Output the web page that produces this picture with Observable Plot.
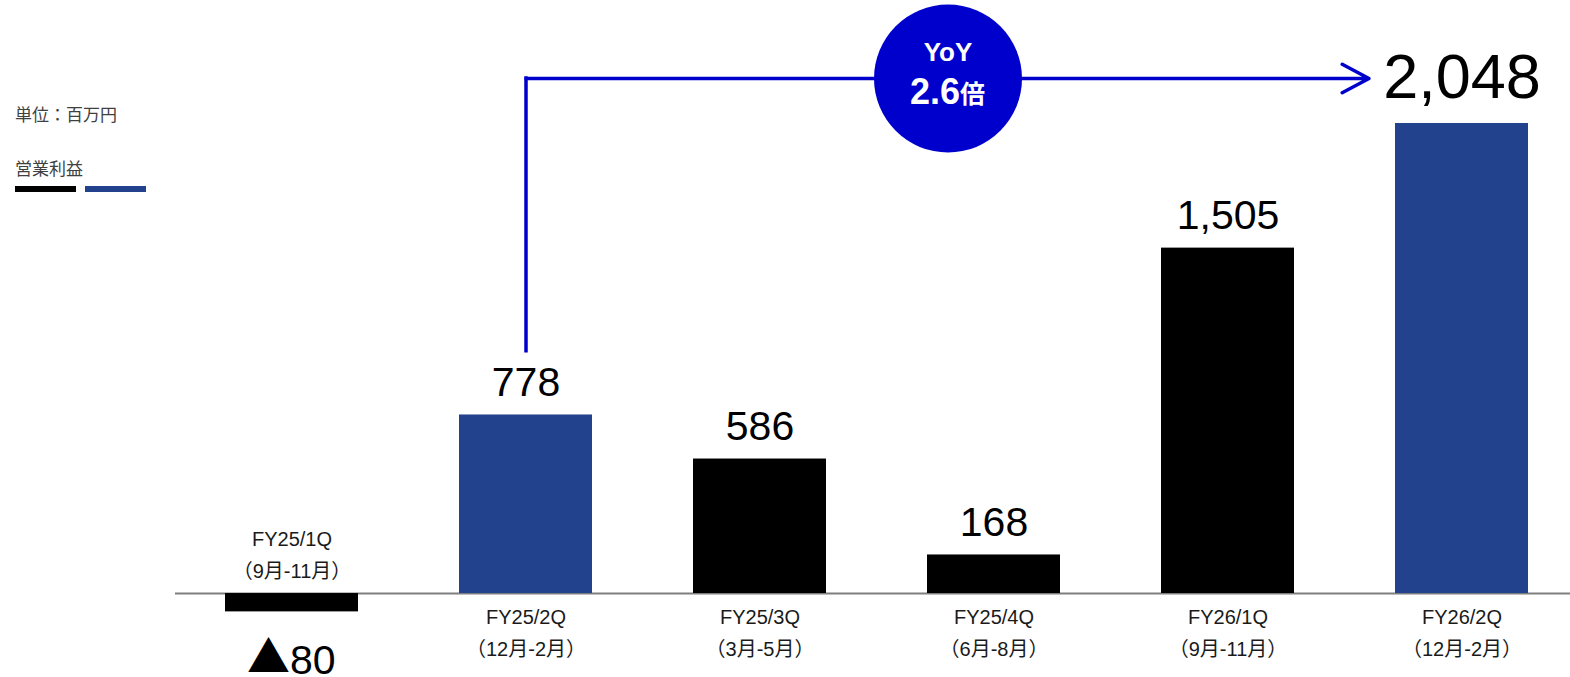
<!DOCTYPE html>
<html><head><meta charset="utf-8">
<script src="https://cdn.jsdelivr.net/npm/d3@7"></script>
<script src="https://cdn.jsdelivr.net/npm/@observablehq/plot@0.6"></script>
<style>
body{margin:0;background:#fff;}
#wrap{position:relative;width:1570px;height:677px;}
#legend{position:absolute;left:0;top:0;font-family:"Noto Sans CJK JP",sans-serif;color:#404040;font-size:17px;}
#legend div{position:absolute;white-space:nowrap;}
.sw{height:6px;width:61px;}
</style></head><body>
<div id="wrap"><div id="chart"></div><div id="legend"></div></div>
<script>
// ---- data ----
const categories = ["FY25/1Q","FY25/2Q","FY25/3Q","FY25/4Q","FY26/1Q","FY26/2Q"];
const periods = ["（9月-11月）","（12月-2月）","（3月-5月）","（6月-8月）","（9月-11月）","（12月-2月）"];
const values = [-80, 778, 586, 168, 1505, 2048];
const valueLabels = ["▲80","778","586","168","1,505","2,048"];
const compared = ["FY25/2Q","FY26/2Q"];
const unitLabel = "単位：百万円";
const seriesLabel = "営業利益";
const yoyTitle = "YoY";
const yoyRatio = "2.6";
const yoyUnit = "倍";
const yoyArrowLevel = 2244;

// ---- styles ----
const BLACK = "#000000", BLUE = "#22428E", ARROW = "#0000CC";
const FONT = "'Liberation Sans', Arial, 'Noto Sans CJK JP', sans-serif";

const data = categories.map((c,i)=>({cat:c, period:periods[i], value:values[i], label:valueLabels[i],
  color: compared.includes(c) ? BLUE : BLACK, tick: c + "\n" + periods[i]}));
const last = data[data.length-1];
const pos = data.filter(d=>d.value>=0 && d!==last);
const neg = data.filter(d=>d.value<0).map(d=>({...d, mark:d.label.startsWith("▲") ? "▲" : "", num:d.label.replace("▲","")}));
const cmpFrom = data.find(d=>d.cat===compared[0]);
const cmpTo = data.find(d=>d.cat===compared[1]);
const midCat = categories[3];

const chart = Plot.plot({
  width:1570, height:677,
  marginLeft:175, marginRight:0, marginTop:0, marginBottom:0,
  style:{fontFamily:FONT, background:"#fff"},
  x:{domain:categories, range:[173.5, 1580], paddingInner:0.433, paddingOuter:0.2187, axis:null},
  y:{domain:[-365.9,2583.9], range:[677,0], axis:null},
  color:{type:"identity"},
  marks:[
    Plot.ruleY([0],{stroke:"#7f7f7f", strokeWidth:2}),
    Plot.barY(data,{x:"cat", y:"value", fill:"color"}),
    // value labels
    Plot.text(pos,{x:"cat", y:"value", text:"label", lineAnchor:"bottom", dy:-19, fontSize:41, fill:BLACK}),
    Plot.text([last],{x:"cat", y:"value", text:"label", lineAnchor:"bottom", dy:-25, fontSize:63, fill:BLACK}),
    Plot.text(neg,{x:"cat", y:"value", text:"mark", lineAnchor:"bottom", textAnchor:"end", dx:-2, dy:61, fontSize:43, fill:BLACK, fontFamily:"'Noto Sans CJK JP', sans-serif"}),
    Plot.text(neg,{x:"cat", y:"value", text:"num", lineAnchor:"bottom", textAnchor:"start", dx:-2, dy:62.5, fontSize:41, fill:BLACK}),
    // category labels
    Plot.text(data.filter(d=>d.value>=0),{x:"cat", y:0, text:"tick", lineAnchor:"bottom", lineHeight:1.6, dy:62, fontSize:20, fill:"#1a1a1a"}),
    Plot.text(neg,{x:"cat", y:0, text:"tick", lineAnchor:"bottom", lineHeight:1.6, dy:-16, fontSize:20, fill:"#1a1a1a"}),
    // YoY annotation
    Plot.ruleX([cmpFrom],{x:"cat", y1:()=>yoyArrowLevel, y2:"value", stroke:ARROW, strokeWidth:3.5, insetBottom:62, insetTop:-1.75}),
    Plot.arrow([{a:cmpFrom.cat,b:cmpTo.cat}],{x1:"a", x2:"b", y1:()=>yoyArrowLevel, y2:()=>yoyArrowLevel,
      stroke:ARROW, strokeWidth:3.5, insetEnd:93, headLength:13, headAngle:56, bend:0}),
    Plot.dot([midCat],{x:d=>d, y:()=>yoyArrowLevel, r:74, fill:ARROW, stroke:"none", dx:-46}),
    Plot.text([yoyTitle],{x:()=>midCat, y:()=>yoyArrowLevel, text:d=>d, dx:-46, dy:-18, lineAnchor:"bottom", fontSize:26, fontWeight:"bold", fill:"#fff"}),
    Plot.text([yoyRatio],{x:()=>midCat, y:()=>yoyArrowLevel, text:d=>d, dx:-34, dy:25, lineAnchor:"bottom", textAnchor:"end", fontSize:36, fontWeight:"bold", fill:"#fff"}),
    Plot.text([yoyUnit],{x:()=>midCat, y:()=>yoyArrowLevel, text:d=>d, dx:-34, dy:24, lineAnchor:"bottom", textAnchor:"start", fontSize:25, fontWeight:"bold", fill:"#fff", fontFamily:"'Noto Sans CJK JP', sans-serif"})
  ]
});
document.getElementById("chart").appendChild(chart);

const lg = document.getElementById("legend");
lg.innerHTML = `<div style="left:15px;top:101px">${unitLabel}</div>
<div style="left:15px;top:155px">${seriesLabel}</div>
<div class="sw" style="left:15px;top:186px;background:${BLACK}"></div>
<div class="sw" style="left:85px;top:186px;background:${BLUE}"></div>`;
</script>
</body></html>
